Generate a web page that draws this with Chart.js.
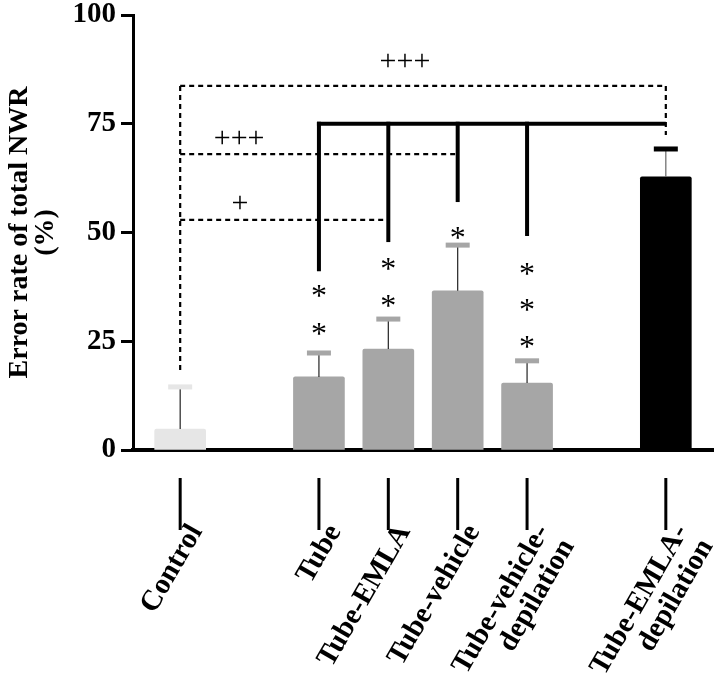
<!DOCTYPE html>
<html>
<head>
<meta charset="utf-8">
<script src="https://cdn.jsdelivr.net/npm/chart.js@4.4.1/dist/chart.umd.min.js"></script>
<style>
  html, body { margin: 0; padding: 0; background: #fff; }
</style>
</head>
<body>
<canvas id="chart" width="720" height="696"></canvas>
<script>
// groups along the x axis ('' = empty slot between groups)
const categories = ['Control', '', 'Tube', 'Tube-EMLA', 'Tube-vehicle', 'Tube-vehicle-depilation', '', 'Tube-EMLA-depilation'];
const means = [4.8, null, 16.8, 23.2, 36.6, 15.4, null, 62.8];
const errors = [9.7, null, 5.5, 6.9, 10.5, 5.1, null, 6.4];
const barColors = ['#e6e6e6', null, '#a6a6a6', '#a6a6a6', '#a6a6a6', '#a6a6a6', null, '#000000'];
const yTicks = [0, 25, 50, 75, 100];

// significance marks (x = group index, y = value on the axis)
const solidLevel = 75;
const solidDrops = [[2, 41.1], [3, 47.8], [4, 57.0], [5, 49.2]];
const dashedLevels = [[83.7, 7], [68, 4], [52.9, 3]];
const plusMarks = [['+++', 3.24, 89.2], ['+++', 0.85, 71.5], ['+', 0.86, 56.5]];
const starMarks = [[2, [36.8, 28.0]], [3, [43.0, 34.5]], [4, [50.1]], [5, [41.8, 33.6, 25.1]]];

const FONT = "'Liberation Serif', 'Times New Roman', serif";

function splitLabel(name) {
    if (!name) return '';
    const k = name.lastIndexOf('-depilation');
    return k > 0 ? [name.slice(0, k + 1), name.slice(k + 1)] : name;
}

const points = [];
const colors = [];
means.forEach(function(m, i) {
    if (m === null) return;
    points.push({ x: i, y: m });
    colors.push(barColors[i]);
});

const overlay = {
    id: 'overlay',
    afterDraw(chart) {
        const ctx = chart.ctx;
        const xs = chart.scales.x, ys = chart.scales.y;
        const area = chart.chartArea;
        ctx.save();

        // error bars: thin stem + thick cap in bar colour
        means.forEach(function(m, i) {
            if (m === null) return;
            const x = xs.getPixelForValue(i);
            const yBar = ys.getPixelForValue(m);
            const yTop = ys.getPixelForValue(m + errors[i]);
            ctx.strokeStyle = i === 7 ? '#666' : '#222';
            ctx.lineWidth = 1.2;
            ctx.beginPath();
            ctx.moveTo(x, yBar);
            ctx.lineTo(x, yTop);
            ctx.stroke();
            ctx.fillStyle = barColors[i];
            ctx.fillRect(x - 12, yTop - 2.5, 24, 5);
        });

        // x tick marks, detached from the axis
        ctx.strokeStyle = '#000';
        ctx.lineWidth = 3;
        categories.forEach(function(c, i) {
            if (!c) return;
            const x = xs.getPixelForValue(i);
            ctx.beginPath();
            ctx.moveTo(x, area.bottom + 28);
            ctx.lineTo(x, area.bottom + 80);
            ctx.stroke();
        });

        // solid bracket
        ctx.lineWidth = 4;
        const yl = ys.getPixelForValue(solidLevel);
        ctx.beginPath();
        ctx.moveTo(xs.getPixelForValue(2) - 2, yl);
        ctx.lineTo(xs.getPixelForValue(7), yl);
        ctx.stroke();
        solidDrops.forEach(function(d) {
            const x = xs.getPixelForValue(d[0]);
            ctx.beginPath();
            ctx.moveTo(x, yl - 2);
            ctx.lineTo(x, ys.getPixelForValue(d[1]));
            ctx.stroke();
        });

        // dashed brackets from Control
        ctx.lineWidth = 2.2;
        ctx.setLineDash([5, 4]);
        const x0 = xs.getPixelForValue(0);
        ctx.beginPath();
        ctx.moveTo(x0, ys.getPixelForValue(83.7));
        ctx.lineTo(x0, ys.getPixelForValue(17.5));
        ctx.stroke();
        dashedLevels.forEach(function(d) {
            const y = ys.getPixelForValue(d[0]);
            ctx.beginPath();
            ctx.moveTo(x0, y);
            ctx.lineTo(xs.getPixelForValue(d[1]), y);
            ctx.stroke();
        });
        const x7 = xs.getPixelForValue(7);
        ctx.beginPath();
        ctx.moveTo(x7, ys.getPixelForValue(83.7));
        ctx.lineTo(x7, ys.getPixelForValue(72.4));
        ctx.stroke();
        ctx.setLineDash([]);

        // text marks
        ctx.fillStyle = '#000';
        ctx.textAlign = 'center';
        ctx.textBaseline = 'middle';
        ctx.font = '30px ' + FONT;
        plusMarks.forEach(function(p) {
            ctx.fillText(p[0], xs.getPixelForValue(p[1]), ys.getPixelForValue(p[2]));
        });
        ctx.font = '32px ' + FONT;
        ctx.textBaseline = 'alphabetic';
        starMarks.forEach(function(s) {
            const x = xs.getPixelForValue(s[0]);
            s[1].forEach(function(v) {
                ctx.fillText('*', x, ys.getPixelForValue(v) + 16);
            });
        });
        ctx.restore();
    }
};

const ctx = document.getElementById('chart').getContext('2d');
const chart = new Chart(ctx, {
    type: 'bar',
    data: {
        datasets: [{
            data: points,
            backgroundColor: colors,
            barThickness: 51,
            borderRadius: 2,
            borderSkipped: 'bottom'
        }]
    },
    options: {
        responsive: false,
        animation: false,
        devicePixelRatio: 1,
        layout: { padding: { top: 15, right: 7, left: 0, bottom: 0 } },
        plugins: { legend: { display: false }, tooltip: { enabled: false } },
        scales: {
            x: {
                type: 'linear',
                min: -0.68,
                max: 7.68,
                offset: false,
                grid: { display: false },
                border: { display: true, color: '#000', width: 4 },
                ticks: {
                    stepSize: 1,
                    autoSkip: false,
                    minRotation: 60,
                    maxRotation: 60,
                    padding: 62,
                    labelOffset: 16,
                    color: '#000',
                    font: { family: FONT, size: 29, weight: 'bold', lineHeight: 1.0 },
                    callback: function(v) { return splitLabel(categories[v]); }
                },
                afterBuildTicks: function(s) {
                    s.ticks = s.ticks.filter(function(t) {
                        return Number.isInteger(t.value) && categories[t.value];
                    });
                },
                afterFit: function(s) {
                    s.height = 246;
                    s.paddingLeft = 0;
                    s.paddingRight = 0;
                }
            },
            y: {
                min: 0,
                max: 100,
                afterBuildTicks: function(s) {
                    s.ticks = yTicks.map(function(v) { return { value: v }; });
                },
                ticks: {
                    padding: 5,
                    color: '#000',
                    font: { family: FONT, size: 29, weight: 'bold' }
                },
                grid: { drawOnChartArea: false, tickLength: 12, tickWidth: 3, tickColor: '#000' },
                border: { color: '#000', width: 3 },
                title: {
                    display: true,
                    text: ['Error rate of total NWR', '(%)'],
                    color: '#000',
                    font: { family: FONT, size: 28, weight: 'bold', lineHeight: 0.95 },
                    padding: { top: 6, bottom: 0 }
                },
                afterFit: function(s) {
                    s.width = 133;
                    s.paddingTop = 15;
                    s.paddingBottom = 0;
                }
            }
        }
    },
    plugins: [overlay]
});
</script>
</body>
</html>
